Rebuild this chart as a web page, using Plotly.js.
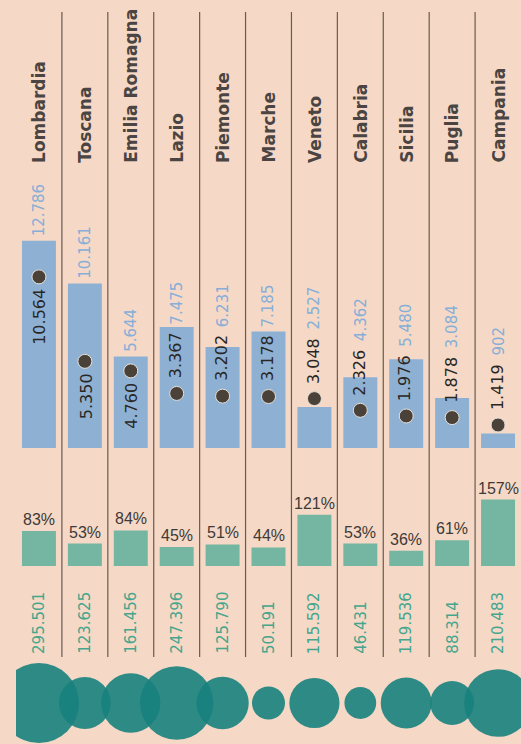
<!DOCTYPE html>
<html>
<head>
<meta charset="utf-8">
<script src="https://cdn.plot.ly/plotly-3.0.1.min.js"></script>
<style>
html,body{margin:0;padding:0;background:#f5d9c6;}
#chart{width:521px;height:744px;}
</style>
</head>
<body>
<div id="chart"></div>
<script>
// ---- data ----
const regions = ["Lombardia","Toscana","Emilia Romagna","Lazio","Piemonte","Marche","Veneto","Calabria","Sicilia","Puglia","Campania"];
const barValues = [12786, 10161, 5644, 7475, 6231, 7185, 2527, 4362, 5480, 3084, 902];
const dotValues = [10564, 5350, 4760, 3367, 3202, 3178, 3048, 2326, 1976, 1878, 1419];
const pctValues = [83, 53, 84, 45, 51, 44, 121, 53, 36, 61, 157];
const circleValues = [295501, 123625, 161456, 247396, 125790, 50191, 115592, 46431, 119536, 88314, 210483];

// ---- styles / layout constants ----
const H = 744;
const BG = "#f5d9c6";
const BLUE = "#8eb1d3";
const LIGHTBLUE = "#86aed8";
const DARK = "#2a2624";
const GREEN = "#74b6a2";
const GREENTXT = "#45a58d";
const TEAL = "rgb(24,129,125)";
const NAME = "#4a4543";

const blueBase = 448, blueScale = 0.0162;      // px per unit
const greenBase = 566, greenTop = 470, greenScale = 0.423;
const circTop = 650, circCenter = 703;

function fmt(n){ return String(n).replace(/\B(?=(\d{3})+(?!\d))/g, "."); }
function pf(px){ return 1 - px / H; }
// approximate rendered length (px) of a number string in DejaVu Sans
function textLen(s, size){
  let w = 0;
  for (const c of s) w += (c === "." ? 0.318 : 0.636);
  return w * size;
}

const traces = [
  { type: "bar", x: regions, y: barValues, width: 0.74, marker: {color: BLUE},
    xaxis: "x", yaxis: "y", hoverinfo: "skip" },
  { type: "scatter", mode: "markers", x: regions, y: dotValues,
    marker: {size: 14, color: "#4a4139", line: {color: "#e6e2dd", width: 1}},
    xaxis: "x", yaxis: "y", hoverinfo: "skip", cliponaxis: false },
  { type: "bar", x: regions, y: pctValues, width: 0.74, marker: {color: GREEN},
    xaxis: "x", yaxis: "y2", hoverinfo: "skip" },
  { type: "scatter", mode: "markers", x: regions, y: regions.map(() => 0),
    marker: {size: circleValues, sizemode: "area", sizeref: 91.9, color: TEAL, opacity: 0.9, line: {width: 0}},
    xaxis: "x", yaxis: "y3", hoverinfo: "skip" }
];

const annotations = [];
const shapes = [];

regions.forEach((r, i) => {
  // region name
  annotations.push({ x: r, xref: "x", y: pf(165), yref: "paper", yanchor: "bottom", xanchor: "center",
    text: r, textangle: -90, showarrow: false,
    font: {family: "DejaVu Sans", size: 17, color: NAME, weight: "bold"} });

  const dotPx = dotValues[i] * blueScale;
  const darkTxt = fmt(dotValues[i]);
  if (dotPx > 70) {
    // dark label inside the bar, below the dot
    annotations.push({ x: r, xref: "x", y: dotValues[i], yref: "y", yanchor: "top", xanchor: "center",
      yshift: -10, xshift: 1, text: darkTxt, textangle: -90, showarrow: false,
      font: {family: "DejaVu Sans", size: 16, color: DARK} });
    // light label above the bar top
    annotations.push({ x: r, xref: "x", y: barValues[i], yref: "y", yanchor: "bottom", xanchor: "center",
      yshift: 3, text: fmt(barValues[i]), textangle: -90, showarrow: false,
      font: {family: "DejaVu Sans", size: 15, color: LIGHTBLUE} });
  } else {
    const sh = 13;
    annotations.push({ x: r, xref: "x", y: dotValues[i], yref: "y", yanchor: "bottom", xanchor: "center",
      yshift: sh, xshift: -1, text: darkTxt, textangle: -90, showarrow: false,
      font: {family: "DejaVu Sans", size: 16, color: DARK} });
    annotations.push({ x: r, xref: "x", y: dotValues[i], yref: "y", yanchor: "bottom", xanchor: "center",
      yshift: Math.round(sh + textLen(darkTxt, 16) + 8), text: fmt(barValues[i]), textangle: -90, showarrow: false,
      font: {family: "DejaVu Sans", size: 15, color: LIGHTBLUE} });
  }

  // percentage label
  annotations.push({ x: r, xref: "x", y: pctValues[i], yref: "y2", yanchor: "bottom", xanchor: "center",
    yshift: 1, text: pctValues[i] + "%", showarrow: false,
    font: {family: "Liberation Sans", size: 16, color: "#3d3a38"} });

  // number under the green bar
  annotations.push({ x: r, xref: "x", y: pf(656), yref: "paper", yanchor: "bottom", xanchor: "center",
    text: fmt(circleValues[i]), textangle: -90, showarrow: false,
    font: {family: "DejaVu Sans", size: 15, color: GREENTXT} });

  // divider lines between columns
  if (i < regions.length - 1) {
    shapes.push({ type: "line", xref: "x", x0: i + 0.5, x1: i + 0.5, yref: "paper",
      y0: pf(12), y1: pf(657), line: {color: "#6b5a4f", width: 1.2}, layer: "below" });
  }
});

const layout = {
  width: 521, height: 744,
  margin: {l: 16, r: 0, t: 0, b: 0, pad: 0},
  paper_bgcolor: BG, plot_bgcolor: "rgba(0,0,0,0)",
  showlegend: false,
  xaxis: {type: "category", range: [-0.5, 10.5], visible: false, fixedrange: true},
  yaxis: {domain: [pf(blueBase), 1], range: [0, blueBase / blueScale], visible: false, anchor: "x"},
  yaxis2: {domain: [pf(greenBase), pf(greenTop)], range: [0, (greenBase - greenTop) / greenScale], visible: false, anchor: "x"},
  yaxis3: {domain: [0, pf(circTop)], range: [-(H - circCenter), circCenter - circTop], visible: false, anchor: "x"},
  annotations: annotations,
  shapes: shapes
};

Plotly.newPlot("chart", traces, layout, {displayModeBar: false, staticPlot: true});
</script>
</body>
</html>
